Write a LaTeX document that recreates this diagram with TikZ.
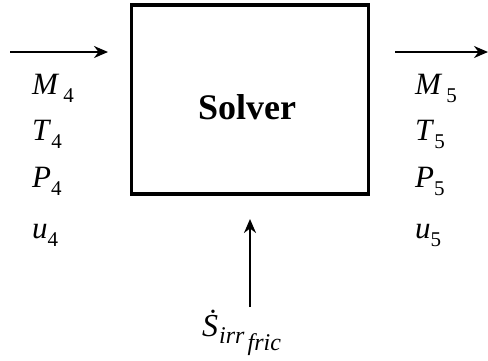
\documentclass[tikz,border=0pt]{standalone}
\usepackage{fontspec}
\setmainfont{Liberation Serif}
\usetikzlibrary{arrows.meta}
\newcommand{\subsz}{\fontsize{21}{23}\selectfont}
\begin{document}
\begin{tikzpicture}[x=1pt,y=-1pt,
  flow/.style={line width=2pt,-{Stealth[length=14pt,width=12pt]}},
  var/.style={anchor=base west,inner sep=0pt,font=\fontsize{31}{35}\selectfont},
  solverbox/.style={draw,line width=3.5pt,minimum width=237pt,minimum height=189pt,inner sep=0pt},
  solvertext/.style={anchor=base,inner sep=0pt,font=\fontsize{36}{40}\selectfont\bfseries}]
\useasboundingbox (0,0) rectangle (488,360);
\node[solverbox] (solver) at (250,99.5) {};
\node[solvertext] (solvertxt) at (247,119) {Solver};
% arrows
\coordinate (lin) at (10,52);
\coordinate (lout) at (108,52);
\draw[flow] (lin) -- (lout);
\coordinate (rin) at (395,52);
\coordinate (rout) at (488,52);
\draw[flow] (rin) -- (rout);
\coordinate (bin) at (250,307);
\coordinate (bout) at (250,219);
\draw[flow] (bin) -- (bout);
% labels
\node[var] (m4) at (32,94) {\textit{M}\kern4pt\raisebox{-8pt}{\subsz 4}};
\node[var] (t4) at (32,140) {\textit{T}\raisebox{-8pt}{\subsz 4}};
\node[var] (p4) at (32,187) {\textit{P}\raisebox{-8pt}{\subsz 4}};
\node[var] (u4) at (32,238) {\textit{u}\raisebox{-8pt}{\subsz 4}};
\node[var] (m5) at (415,94) {\textit{M}\kern4pt\raisebox{-8pt}{\subsz 5}};
\node[var] (t5) at (415,140) {\textit{T}\raisebox{-8pt}{\subsz 5}};
\node[var] (p5) at (415,187) {\textit{P}\raisebox{-8pt}{\subsz 5}};
\node[var] (u5) at (415,238) {\textit{u}\raisebox{-8pt}{\subsz 5}};
\node[var,font=\fontsize{32}{36}\selectfont] (s) at (202,336) {\textit{Ṡ}\kern1pt\raisebox{-7pt}{\fontsize{24}{26}\selectfont\textit{irr}\kern3pt\raisebox{-7pt}{\textit{fric}}}};
\end{tikzpicture}
\end{document}
